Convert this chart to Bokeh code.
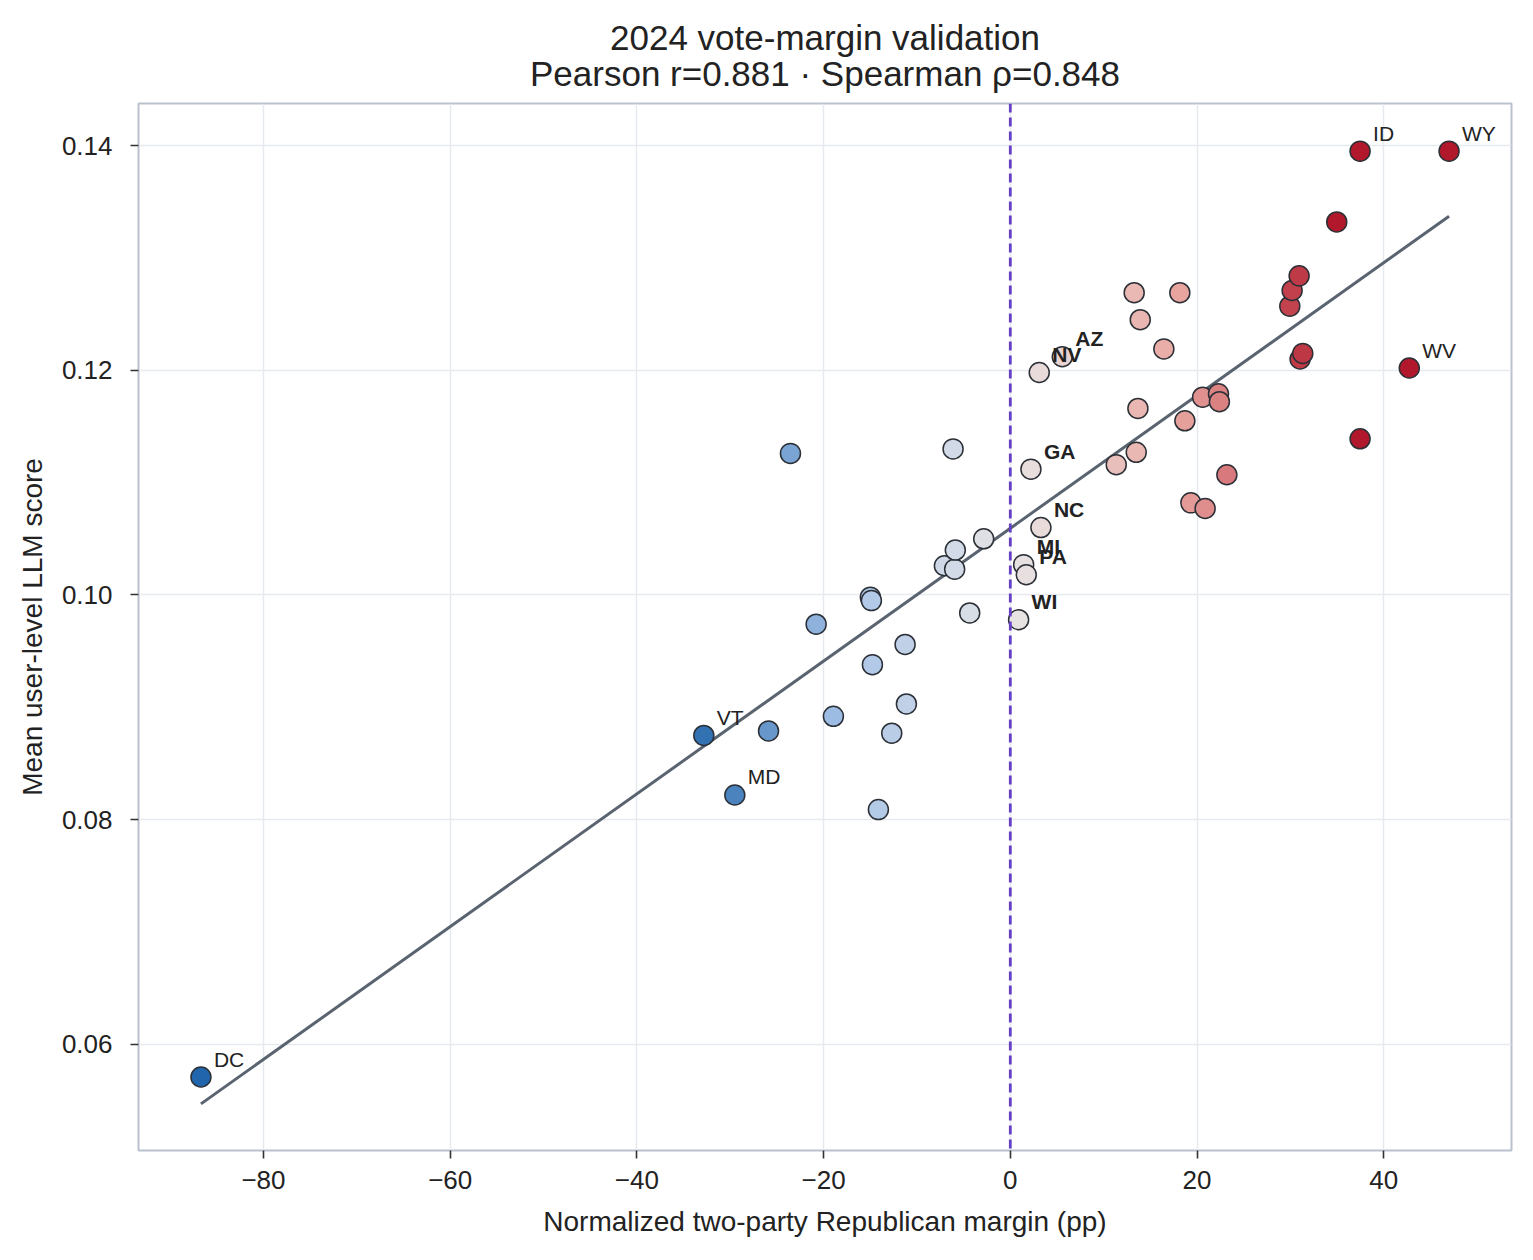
import numpy as np
from bokeh.plotting import figure
from bokeh.models import ColumnDataSource, Title, Span, FixedTicker
from bokeh.embed import file_html
from bokeh.resources import INLINE
from bokeh.core.properties import value

# ---- data ----
margin = [-86.7, -32.83, -29.51, -25.9, -23.55, -20.8, -18.95, -14.99, -14.88, -14.77,
          -14.13, -12.7, -11.27, -11.13, -7.06, -6.13, -5.96, -5.89, -4.35, -2.85,
          0.89, 1.43, 1.71, 2.21, 3.1, 3.28, 5.57, 11.35, 13.27, 13.49,
          13.67, 13.92, 16.45, 18.16, 18.7, 19.34, 20.6, 20.87, 22.3, 22.4,
          23.2, 29.94, 30.19, 30.94, 31.04, 31.33, 34.97, 37.47, 37.47, 42.74, 47.0]
score = [0.0571, 0.0875, 0.0822, 0.0879, 0.1126, 0.0974, 0.0892, 0.0998, 0.0995, 0.0938,
         0.0809, 0.0877, 0.0956, 0.0903, 0.1026, 0.1130, 0.1023, 0.1040, 0.0984, 0.1050,
         0.0978, 0.1027, 0.1018, 0.1112, 0.1198, 0.1060, 0.1212, 0.1116, 0.1269, 0.1127,
         0.1166, 0.1245, 0.1219, 0.1269, 0.1155, 0.1082, 0.1176, 0.1077, 0.1179, 0.1172,
         0.1107, 0.1257, 0.1271, 0.1284, 0.1210, 0.1215, 0.1332, 0.1139, 0.1395, 0.1202, 0.1395]
label = ["DC", "VT", "MD", "", "", "", "", "", "", "",
         "", "", "", "", "", "", "", "", "", "",
         "WI", "MI", "PA", "GA", "NV", "NC", "AZ", "", "", "",
         "", "", "", "", "", "", "", "", "", "",
         "", "", "", "", "", "", "", "", "ID", "WV", "WY"]
swing_states = ["AZ", "NV", "GA", "NC", "MI", "PA", "WI"]
x_ticks = [-80, -60, -40, -20, 0, 20, 40]
y_ticks = [0.06, 0.08, 0.10, 0.12, 0.14]
title_lines = ["2024 vote-margin validation", "Pearson r=0.881 · Spearman ρ=0.848"]

FONT = "Liberation Sans"
DARK = "#222222"

# ---- diverging colour map ----
stops_v = [-35, -17.5, 0, 17.5, 35]
stops_c = [(33, 102, 172), (168, 196, 232), (232, 230, 230), (234, 170, 164), (178, 24, 43)]


def cmap(v):
    v = max(-35.0, min(35.0, v))
    rgb = [int(round(np.interp(v, stops_v, [c[i] for c in stops_c]))) for i in range(3)]
    return "#%02x%02x%02x" % tuple(rgb)


colors = [cmap(m) for m in margin]

# ---- regression ----
slope, intercept = np.polyfit(margin, score, 1)
fx = [min(margin), max(margin)]
fy = [slope * v + intercept for v in fx]

p = figure(width=1517, height=1244, output_backend="svg", toolbar_location=None,
           x_range=(-93.39, 53.69), y_range=(0.05056, 0.14374),
           min_border_left=138, min_border_right=6, min_border_top=103, min_border_bottom=94)
p.title = None

t2 = Title(text=title_lines[1], align="center",
           text_font=FONT, text_font_size="35px", text_font_style="normal",
           text_color=DARK, standoff=21)
t1 = Title(text=title_lines[0], align="center",
           text_font=FONT, text_font_size="35px", text_font_style="normal",
           text_color=DARK, standoff=-31)
p.add_layout(t2, "above")
p.add_layout(t1, "above")

p.background_fill_color = "white"
p.border_fill_color = "white"
p.outline_line_color = "#b9c2cd"
p.outline_line_width = 2

for ax in (p.xaxis[0], p.yaxis[0]):
    ax.axis_line_color = None
    ax.major_tick_line_color = "#333333"
    ax.major_tick_line_width = 1.6
    ax.major_tick_out = 8
    ax.major_tick_in = 0
    ax.minor_tick_line_color = None
    ax.major_label_text_font = FONT
    ax.major_label_text_font_size = "26px"
    ax.major_label_text_color = DARK
    ax.axis_label_text_font = FONT
    ax.axis_label_text_font_size = "28px"
    ax.axis_label_text_font_style = "normal"
    ax.axis_label_text_color = DARK

p.xaxis.ticker = FixedTicker(ticks=x_ticks)
p.yaxis.ticker = FixedTicker(ticks=y_ticks)
p.xaxis.major_label_overrides = {t: ("−%d" % abs(t) if t < 0 else "%d" % t) for t in x_ticks}
p.yaxis.major_label_overrides = {t: "%.2f" % t for t in y_ticks}
p.xaxis.axis_label = "Normalized two-party Republican margin (pp)"
p.yaxis.axis_label = "Mean user-level LLM score"
p.xaxis.major_label_standoff = 12
p.yaxis.major_label_standoff = 18
p.xaxis.axis_label_standoff = 14
p.yaxis.axis_label_standoff = 11

p.xgrid.ticker = FixedTicker(ticks=x_ticks)
p.ygrid.ticker = FixedTicker(ticks=y_ticks)
p.grid.grid_line_color = "#e6e9ee"
p.grid.grid_line_width = 1.5

p.add_layout(Span(location=0, dimension="height", line_color="#6540c4",
                  line_width=2.8, line_dash="9 5"))

p.line(fx, fy, line_color="#5a6370", line_width=3)

src = ColumnDataSource(dict(x=margin, y=score, c=colors, lab=label))
p.scatter("x", "y", source=src, size=20, fill_color="c", line_color="#2b2f36",
          line_width=1.5)

norm_idx = [i for i, l in enumerate(label) if l and l not in swing_states]
bold_idx = [i for i, l in enumerate(label) if l in swing_states]
for idx, style in ((norm_idx, "normal"), (bold_idx, "bold")):
    s = ColumnDataSource(dict(x=[margin[i] for i in idx], y=[score[i] for i in idx],
                              t=[label[i] for i in idx]))
    p.text("x", "y", text="t", source=s, x_offset=13, y_offset=-18,
           text_font=value(FONT), text_font_size="21px", text_font_style=style,
           text_color=DARK, text_baseline="alphabetic", text_align="left")

open("out.html", "w").write(file_html(p, INLINE))
